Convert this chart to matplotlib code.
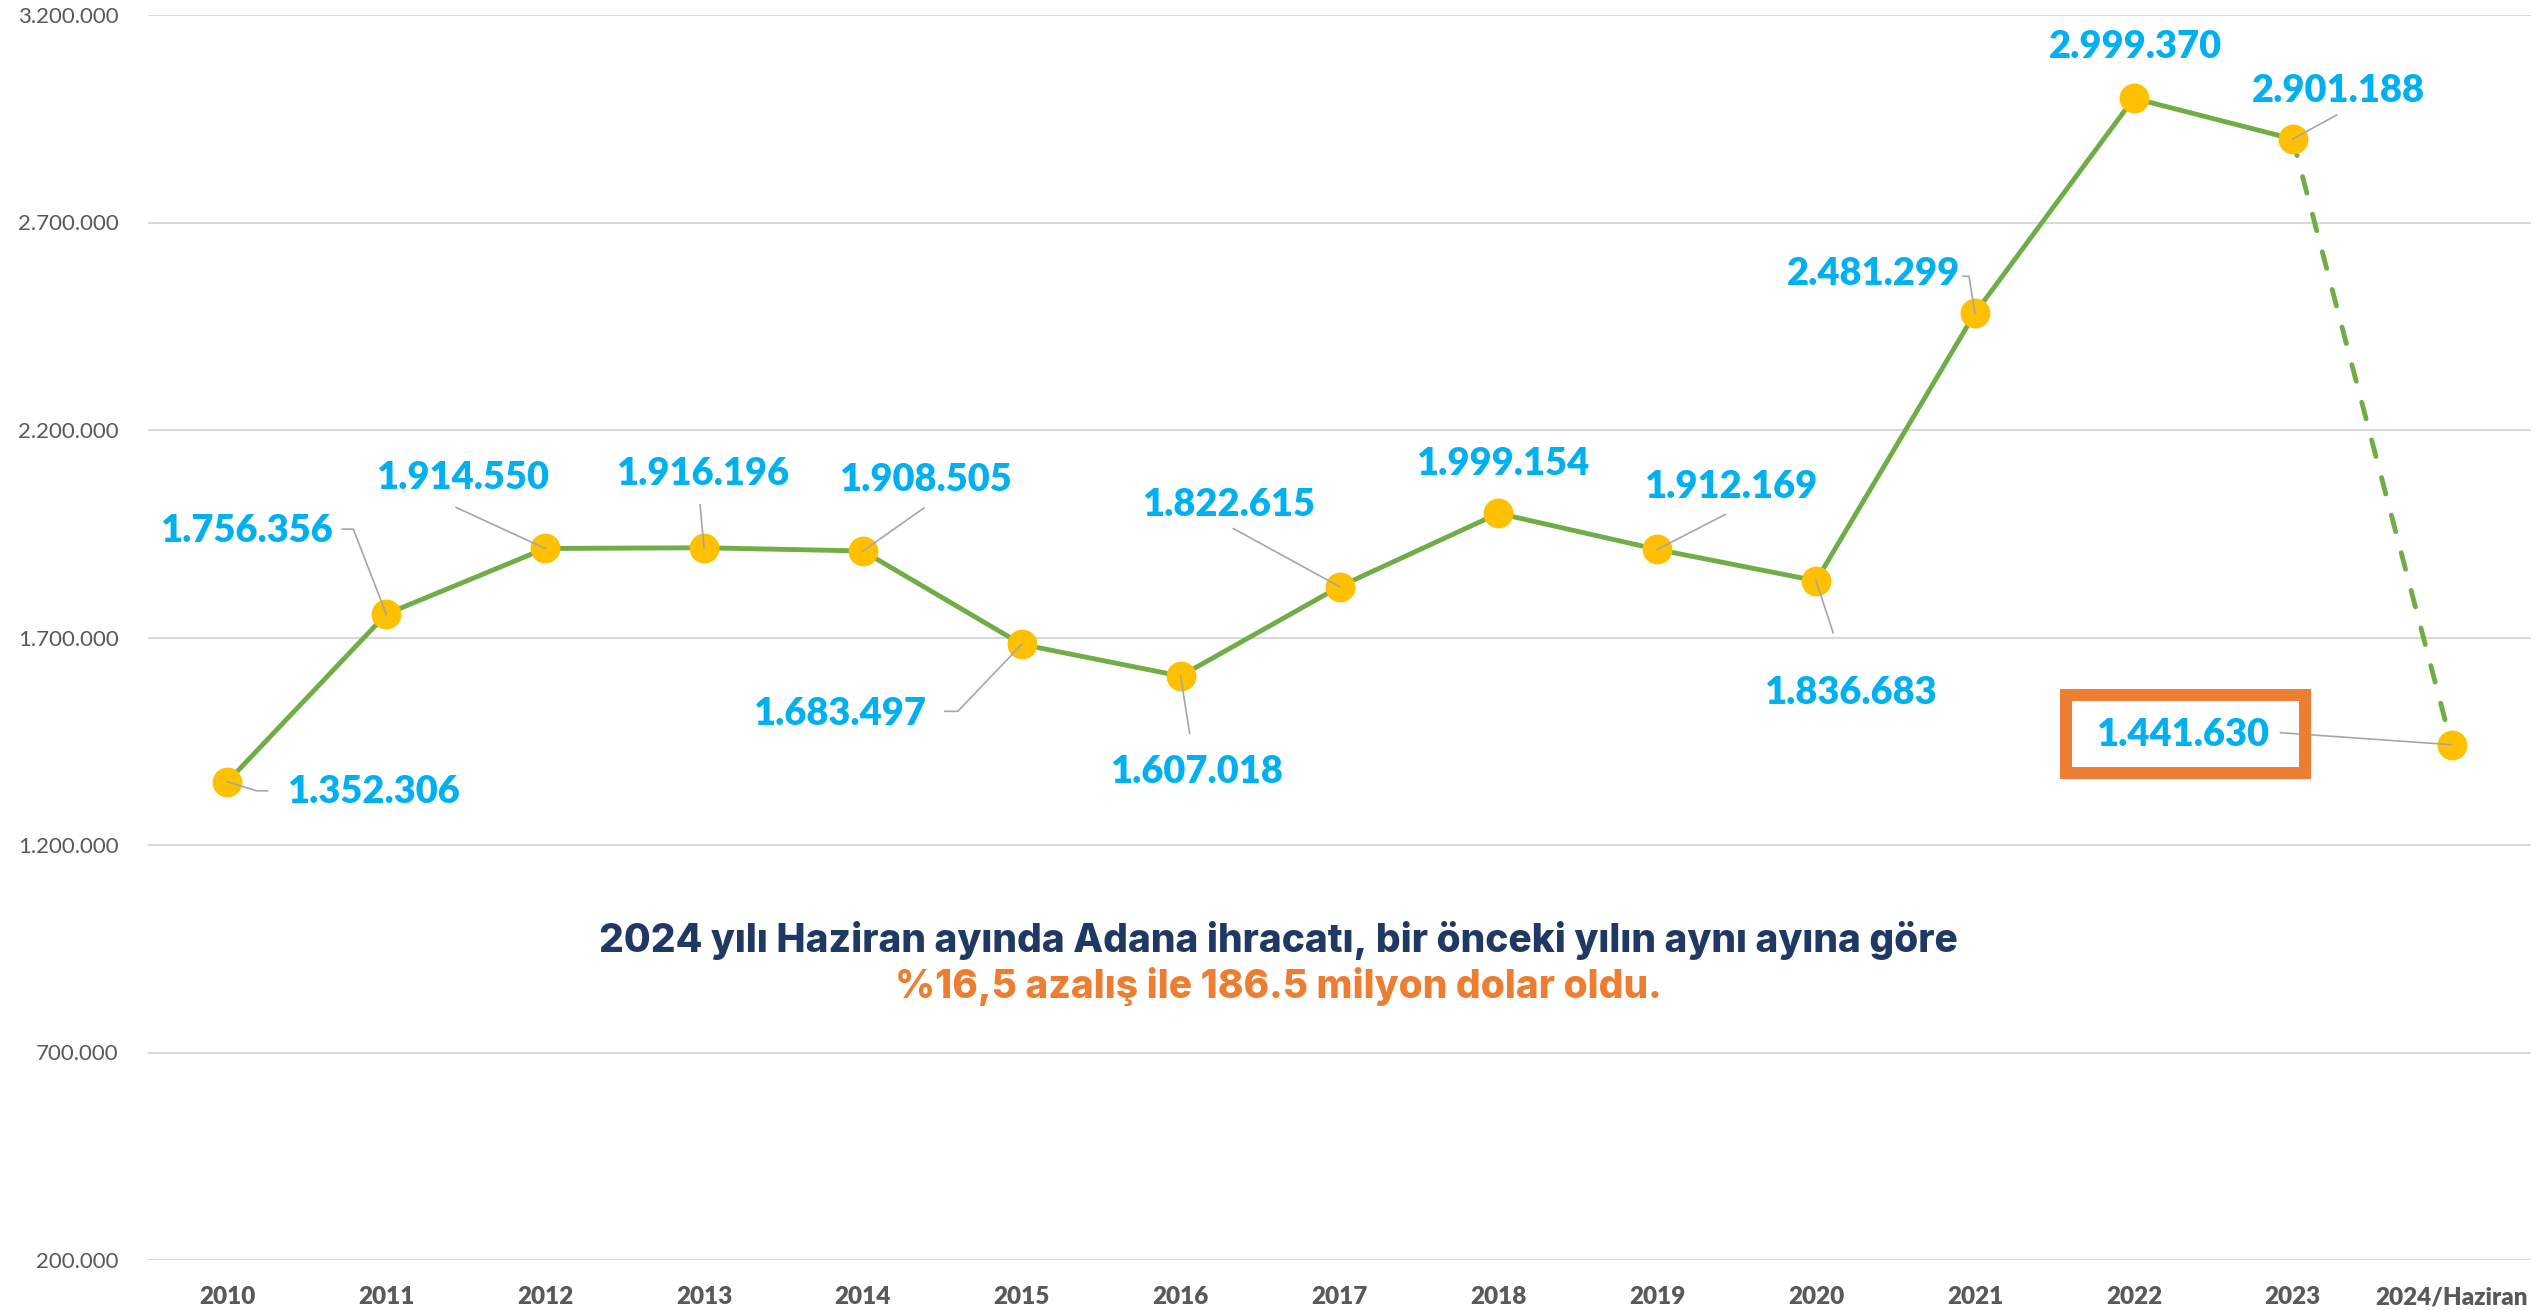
import matplotlib
matplotlib.use('Agg')
import matplotlib.pyplot as plt
import matplotlib.transforms as mtransforms
from matplotlib.patches import Rectangle
import numpy as np

# data
years = ['2010', '2011', '2012', '2013', '2014', '2015', '2016', '2017',
         '2018', '2019', '2020', '2021', '2022', '2023', '2024/Haziran']
exports = [1352306, 1756356, 1914550, 1916196, 1908505, 1683497, 1607018, 1822615,
           1999154, 1912169, 1836683, 2481299, 2999370, 2901188, 1441630]
yticks = [200000, 700000, 1200000, 1700000, 2200000, 2700000, 3200000]

# label placement (pixel offsets from the point, y pointing down)
label_off = [(146, 10), (-140, -83), (-83, -70), (-1, -74), (63, -71), (-182, 70),
             (16, 96), (-111, -82), (4, -49), (73, -62), (34, 112), (-101, -39),
             (2, -51), (46, -48), (-269, -10)]
leaders = [[(0, 0), (29, 9), (40, 9)], [(0, 0), (-33, -85), (-44, -85)],
           [(0, 0), (-89, -41)], [(0, 0), (-4, -43)], [(0, 0), (61, -43)],
           [(0, 0), (-64, 67), (-77, 67)], [(0, 0), (9, 57)], [(0, 0), (-106, -58)],
           None, [(0, 0), (68, -35)], [(0, 0), (17, 52)],
           [(0, 0), (-6, -37), (-12, -37)], None, [(0, 0), (44, -24)],
           [(0, 0), (-171, -12)]]

GREEN = '#70AD47'
YELLOW = '#FFC000'
BLUE = '#00B0F0'
ORANGE = '#ED7D31'
NAVY = '#203864'
GRAY = '#595959'

fig = plt.figure(figsize=(25.44, 13.10), dpi=100)
ax = fig.add_axes([148 / 2544, 50 / 1310, (2531 - 148) / 2544, (1260 - 15) / 1310])

x = np.arange(len(years))
ax.plot(x[:14], exports[:14], color=GREEN, lw=3.5, solid_capstyle='round', zorder=3)
ax.plot(x[13:], exports[13:], color=GREEN, lw=3.5, dashes=(3.5, 4.5),
        dash_capstyle='round', zorder=3)
ax.plot(x, exports, ls='none', marker='o', ms=20.5, color=YELLOW, zorder=4)

ax.set_xlim(-0.5, len(years) - 0.5)
ax.set_ylim(yticks[0], yticks[-1])
ax.set_yticks(yticks)
ax.set_yticklabels(['{:,}'.format(v).replace(',', '.') for v in yticks],
                   fontsize=16, color=GRAY, fontfamily='Lato')
ax.set_xticks(x)
ax.set_xticklabels(years, fontsize=17.5, color=GRAY, fontweight='heavy', fontfamily='Lato')
ax.tick_params(axis='y', length=0, pad=21)
ax.tick_params(axis='x', length=0, pad=19)
for s in ax.spines.values():
    s.set_visible(False)
ax.grid(axis='y', color='#D9D9D9', lw=1.5)
ax.set_axisbelow(True)

ident = mtransforms.IdentityTransform()
for i, v in enumerate(exports):
    px, py = ax.transData.transform((i, v))
    dx, dy = label_off[i]
    ax.text(px + dx, py - dy, '{:,}'.format(v).replace(',', '.'), transform=ident,
            ha='center', va='center', fontsize=27.4, fontweight='heavy',
            color=BLUE, fontfamily='Lato', zorder=6)
    if leaders[i]:
        lx = [px + a for a, b in leaders[i]]
        ly = [py - b for a, b in leaders[i]]
        ax.plot(lx, ly, transform=ident, color='#A6A6A6', lw=1.2, zorder=5)

# box around the last value
px, py = ax.transData.transform((len(years) - 1, exports[-1]))
ax.add_patch(Rectangle((px - 386, py - 28), 239, 78, transform=ident, fill=False,
                       ec=ORANGE, lw=8.6, zorder=6, clip_on=False))

fig.text(0.5024, 1 - 941 / 1310,
         '2024 yılı Haziran ayında Adana ihracatı, bir önceki yılın aynı ayına göre',
         ha='center', va='center', fontsize=28, fontweight=800, color=NAVY,
         fontfamily='Inter')
fig.text(0.5024, 1 - 986 / 1310, '%16,5 azalış ile 186.5 milyon dolar oldu.',
         ha='center', va='center', fontsize=28, fontweight=800, color=ORANGE,
         fontfamily='Inter')

fig.savefig('out.png', dpi=100)
